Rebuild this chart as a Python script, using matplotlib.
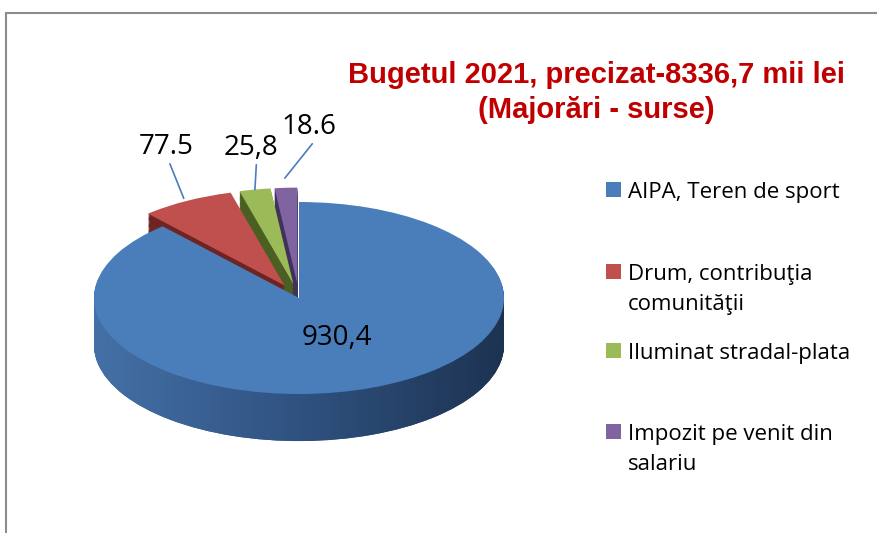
#!/usr/bin/env python3
"""3D-style exploded pie: Bugetul 2021, majorari - surse."""
import numpy as np
import matplotlib

matplotlib.use("Agg")
import matplotlib.pyplot as plt
from matplotlib.colors import LinearSegmentedColormap
from matplotlib.patches import Rectangle
from matplotlib.path import Path

CATEGORIES = [
    ["AIPA, Teren de sport"],
    ["Drum, contribuţia", "comunităţii"],
    ["Iluminat stradal-plata"],
    ["Impozit pe venit din", "salariu"],
]
VALUES = [930.4, 77.5, 25.8, 18.6]
VALUE_LABELS = ["930,4", "77.5", "25,8", "18.6"]
TITLE_LINES = ["Bugetul 2021, precizat-8336,7 mii lei", "(Majorări - surse)"]

EXPLODE = [0, 0.15, 0.15, 0.15]
TOP_COLORS = ["#4a7ebb", "#c0504d", "#9bbb59", "#8064a2"]
SIDE_COLORS = ["#2e5079", "#6e2423", "#4b5f23", "#40325a"]
SIDE_CMAP = LinearSegmentedColormap.from_list("side", ["#4672a8", "#2f5280", "#1c314f"])
TITLE_COLOR = "#c00000"
TEXT_COLOR = "#000000"
LEADER_COLOR = "#4a7ebb"
BORDER_COLOR = "#8c8c8c"

FONT = ["Open Sans", "DejaVu Sans"]

W, H = 877, 533
CX, CY, RX, RY = 299, 298, 205, 96   # pixel centre / radii of the top face
DEPTH = 0.49
N_LAYERS = 40
XL, YL = (-1.4, 1.4), (-1.8, 1.9)

# label centres (px) and relpos for leader lines
LABEL_PX = [(337, 338), (166, 147), (251, 148), (309, 127)]
LABEL_RELPOS = [None, (0.55, 0.0), (0.6, 0.0), (0.6, 0.0)]
LEADER_R = [None, 1.03, 1.0, 1.1]


def fx(px):
    return px / W


def fy(py):
    return 1 - py / H


def to_data(px, py):
    return (px - CX) / RX, (CY - py) / RY


def main():
    fig = plt.figure(figsize=(W / 100, H / 100), dpi=100)
    ax = fig.add_axes([
        fx(CX + XL[0] * RX),
        fy(CY - YL[0] * RY),
        (XL[1] - XL[0]) * RX / W,
        (YL[1] - YL[0]) * RY / H,
    ])

    # extruded side: stacked copies of the pie, bottom first
    blue_sides = []
    for d in np.linspace(DEPTH, DEPTH / N_LAYERS, N_LAYERS):
        wedges, _ = ax.pie(
            VALUES, explode=EXPLODE, startangle=90, counterclock=False,
            colors=SIDE_COLORS, center=(0, -d),
            wedgeprops=dict(linewidth=0, zorder=1),
        )
        blue_sides.append(wedges[0])

    # horizontal shading on the big slice's side
    clip = Path.make_compound_path(*[w.get_path() for w in blue_sides])
    grad = np.linspace(0, 1, 256)[None, :]
    im = ax.imshow(grad, cmap=SIDE_CMAP, extent=(-1.05, 1.05, -1 - DEPTH - 0.1, 0.3),
                   aspect="auto", zorder=1.5, interpolation="bilinear")
    im.set_clip_path(clip, ax.transData)

    tops, _ = ax.pie(
        VALUES, explode=EXPLODE, startangle=90, counterclock=False,
        colors=TOP_COLORS, wedgeprops=dict(linewidth=0, zorder=3),
    )

    for w, text, lpx, relpos, r in zip(tops, VALUE_LABELS, LABEL_PX, LABEL_RELPOS, LEADER_R):
        pos = to_data(*lpx)
        if relpos is None:
            ax.text(*pos, text, ha="center", va="center", fontsize=20,
                    family=FONT, color=TEXT_COLOR, zorder=5)
            continue
        mid = np.deg2rad((w.theta1 + w.theta2) / 2)
        cx, cy = w.center
        xy = (cx + r * np.cos(mid), cy + r * np.sin(mid))
        ax.annotate(
            text, xy=xy, xytext=pos, ha="center", va="center",
            fontsize=20, family=FONT, color=TEXT_COLOR, zorder=5,
            arrowprops=dict(arrowstyle="-", color=LEADER_COLOR, lw=1.2,
                            relpos=relpos, shrinkA=0, shrinkB=0),
        )

    ax.set_aspect("auto")
    ax.set_xlim(XL)
    ax.set_ylim(YL)
    ax.axis("off")

    # title
    for line, base in zip(TITLE_LINES, [83, 118]):
        fig.text(fx(596), fy(base), line, ha="center", va="baseline",
                 fontsize=21, fontweight="bold", color=TITLE_COLOR,
                 family=["Liberation Sans", "DejaVu Sans"])

    # legend (drawn by hand so the swatch sits on the first line)
    baselines = [[198], [280, 310], [359], [440, 470]]
    for lines, bases, color in zip(CATEGORIES, baselines, TOP_COLORS):
        fig.add_artist(Rectangle((fx(606), fy(bases[0] - 1)), 15 / W, 15 / H,
                                 transform=fig.transFigure, facecolor=color,
                                 edgecolor="none"))
        for line, b in zip(lines, bases):
            fig.text(fx(628), fy(b), line, ha="left", va="baseline",
                     fontsize=16, family=FONT, color=TEXT_COLOR)

    # chart-area border (only top and left visible)
    fig.add_artist(Rectangle((fx(5.5), fy(H + 20)), 2, fy(13) - fy(H + 20),
                             transform=fig.transFigure, fill=False,
                             edgecolor=BORDER_COLOR, lw=1.5))

    fig.savefig("out.png", dpi=100)
    plt.close(fig)


if __name__ == "__main__":
    main()
